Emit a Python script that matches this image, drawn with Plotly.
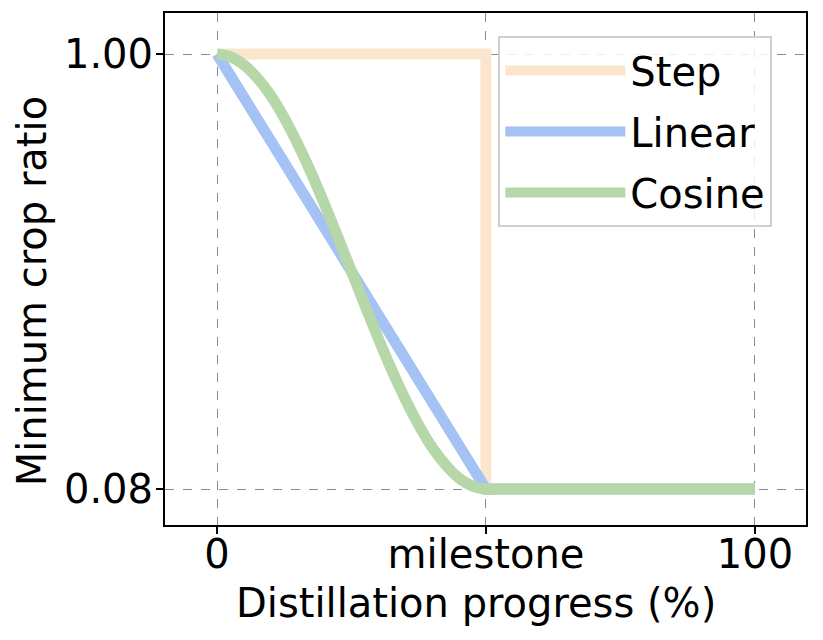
import plotly.graph_objects as go

# Data
step_x = [0, 50, 50, 100]
step_y = [1.00, 1.00, 0.08, 0.08]
linear_x = [0, 50, 100]
linear_y = [1.00, 0.08, 0.08]
cosine_x = [0, 2.5, 5, 7.5, 10, 12.5, 15, 17.5, 20, 22.5, 25, 27.5, 30, 32.5,
            35, 37.5, 40, 42.5, 45, 47.5, 50, 52.5, 100]
cosine_y = [1.000, 0.994, 0.977, 0.949, 0.912, 0.865, 0.810, 0.749, 0.682, 0.612,
            0.540, 0.468, 0.398, 0.331, 0.270, 0.215, 0.168, 0.131, 0.103, 0.086,
            0.080, 0.080, 0.080]
x_tickvals = [0, 50, 100]
x_ticktext = ["0", "milestone", "100"]
y_tickvals = [0.08, 1.00]
y_ticktext = ["0.08", "1.00"]
x_title = "Distillation progress (%)"
y_title = "Minimum crop ratio"

FONT = "DejaVu Sans"
LW = 11

fig = go.Figure()
fig.add_trace(go.Scatter(x=step_x, y=step_y, mode="lines", name="Step",
                         line=dict(color="#fce5cd", width=LW), legendgroup="a"))
fig.add_trace(go.Scatter(x=linear_x, y=linear_y, mode="lines", name="Linear",
                         line=dict(color="#a4c2f4", width=LW), legendgroup="b"))
fig.add_trace(go.Scatter(x=cosine_x, y=cosine_y, mode="lines", name="Cosine",
                         line=dict(color="#b6d7a8", width=LW, shape="spline", smoothing=1.0),
                         legendgroup="c"))

axis_common = dict(
    showline=True, linecolor="black", linewidth=2, mirror=True,
    ticks="outside", ticklen=7, tickwidth=1.5, tickcolor="black",
    showgrid=True, gridcolor="#8a8a8a", gridwidth=1.2, griddash="dash",
    zeroline=False, tickfont=dict(family=FONT, size=40, color="black"),
    automargin=False,
)

# the page body adds an 8px offset; margins compensate for it
fig.update_layout(
    width=815, height=632,
    margin=dict(l=157, r=17, t=5, b=115),
    plot_bgcolor="white", paper_bgcolor="white",
    font=dict(family=FONT, color="black"),
    xaxis=dict(range=[-9.67, 109.5], tickvals=x_tickvals, ticktext=x_ticktext,
               ticklabelstandoff=-14, **axis_common),
    yaxis=dict(range=[0.0039, 1.0867], tickvals=y_tickvals, ticktext=y_ticktext,
               ticklabelstandoff=-5, **axis_common),
    legend=dict(x=0.52, y=0.955, xanchor="left", yanchor="top",
                bgcolor="rgba(255,255,255,0.85)", bordercolor="#d0d0d0", borderwidth=2,
                font=dict(family=FONT, size=40, color="black"),
                traceorder="grouped", tracegroupgap=6, itemwidth=120),
    showlegend=True,
    annotations=[
        dict(text=x_title, xref="paper", yref="paper", x=0.485, y=-0.152,
             xanchor="center", yanchor="middle", showarrow=False,
             font=dict(family=FONT, size=40, color="black")),
        dict(text=y_title, xref="paper", yref="paper", x=-0.207, y=0.457,
             xanchor="center", yanchor="middle", textangle=-90, showarrow=False,
             font=dict(family=FONT, size=40, color="black")),
    ],
)

fig.write_html("out.html")
